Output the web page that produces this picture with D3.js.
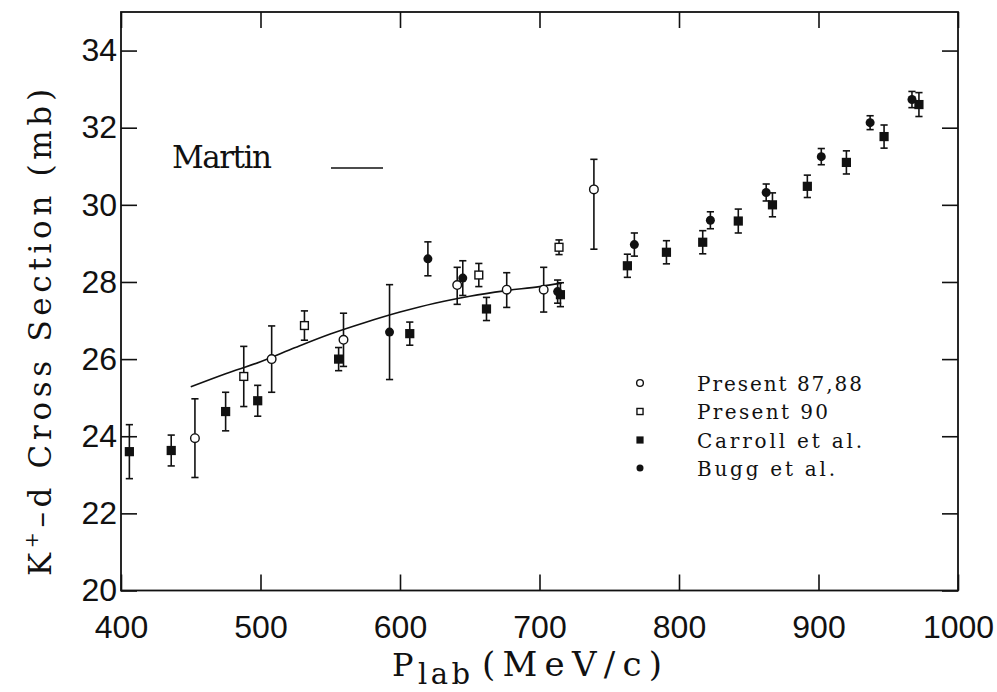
<!DOCTYPE html>
<html><head><meta charset="utf-8">
<script src="https://cdn.jsdelivr.net/npm/d3@7"></script>
<style>body{margin:0;background:#fff}svg{display:block}</style>
</head><body>
<svg id="c" width="997" height="692"></svg>
<script>
// ---- data ----
const xTicks = [400, 500, 600, 700, 800, 900, 1000];
const yTicks = [20, 22, 24, 26, 28, 30, 32, 34];

const present8788X = [453, 508, 559.5, 641, 676.5, 703, 739];
const present8788Y = [23.95, 26.0, 26.5, 27.92, 27.8, 27.8, 30.4];
const present8788Up = [1.02, 0.86, 0.69, 0.46, 0.44, 0.58, 0.78];
const present8788Dn = [1.02, 0.86, 0.69, 0.5, 0.46, 0.58, 1.55];

const present90X = [488, 531.5, 656.5, 714];
const present90Y = [25.55, 26.87, 28.18, 28.9];
const present90Err = [0.78, 0.38, 0.3, 0.19];

const carrollX = [406, 436, 475, 498, 556, 607, 662, 715, 763, 791, 817, 842.5, 867, 892, 920, 947, 972];
const carrollY = [23.6, 23.63, 24.64, 24.92, 26.0, 26.66, 27.3, 27.67, 28.42, 28.77, 29.03, 29.58, 30.0, 30.48, 31.1, 31.77, 32.6];
const carrollErr = [0.7, 0.4, 0.5, 0.4, 0.3, 0.3, 0.3, 0.31, 0.3, 0.3, 0.3, 0.31, 0.31, 0.29, 0.3, 0.3, 0.31];

const buggX = [592.5, 620, 645, 713, 768, 822.5, 862.5, 902, 937, 967];
const buggY = [26.7, 28.6, 28.1, 27.75, 28.97, 29.6, 30.32, 31.25, 32.13, 32.73];
const buggErr = [1.23, 0.44, 0.45, 0.3, 0.3, 0.22, 0.22, 0.21, 0.18, 0.21];

const martinX = [450, 475, 500, 525, 550, 575, 600, 625, 650, 675, 700, 716];
const martinY = [25.28, 25.62, 25.93, 26.3, 26.65, 26.95, 27.22, 27.45, 27.63, 27.77, 27.88, 27.97];

const legendLabels = ["Present 87,88", "Present 90", "Carroll et al.", "Bugg et al."];
const legendWidths = [165, 131, 165, 138];

// ---- layout ----
const m = {l: 121, r: 958, t: 12, b: 590.5};
const svg = d3.select("#c");
const x = d3.scaleLinear().domain([400, 1000]).range([m.l, m.r]);
const y = d3.scaleLinear().domain([20, 35]).range([m.b, m.t]);
const ink = "#111";
const TICK = 16;
const tickFont = "'Liberation Sans', Arial, sans-serif";
const serif = "'DejaVu Serif', serif";

function styleAxis(g, showText) {
  g.select(".domain").remove();
  g.selectAll(".tick line").attr("stroke", ink).attr("stroke-width", 1.6);
  if (!showText) g.selectAll(".tick text").remove();
  else g.selectAll(".tick text").attr("fill", ink).style("font-family", tickFont).style("font-size", "32px");
}

svg.append("g").attr("transform", `translate(0,${m.b})`)
  .call(d3.axisBottom(x).tickValues(xTicks).tickSize(-TICK).tickPadding(25).tickFormat(d3.format("d")))
  .call(g => styleAxis(g, true));
svg.append("g").attr("transform", `translate(0,${m.t})`)
  .call(d3.axisTop(x).tickValues(xTicks).tickSize(-TICK))
  .call(g => styleAxis(g, false));
svg.append("g").attr("transform", `translate(${m.l},0)`)
  .call(d3.axisLeft(y).tickValues(yTicks).tickSize(-TICK).tickPadding(4).tickFormat(d3.format("d")))
  .call(g => styleAxis(g, true));
svg.append("g").attr("transform", `translate(${m.r},0)`)
  .call(d3.axisRight(y).tickValues(yTicks).tickSize(-TICK))
  .call(g => styleAxis(g, false));

svg.append("rect").attr("x", m.l).attr("y", m.t).attr("width", m.r - m.l).attr("height", m.b - m.t)
  .attr("fill", "none").attr("stroke", ink).attr("stroke-width", 1.8);

// ---- Martin curve ----
const line = d3.line().x((d, i) => x(martinX[i])).y((d, i) => y(martinY[i])).curve(d3.curveMonotoneX);
svg.append("path").attr("d", line(martinX)).attr("fill", "none").attr("stroke", ink).attr("stroke-width", 1.6);

// ---- error bars ----
function errBars(xs, ys, up, dn) {
  const g = svg.append("g").attr("stroke", ink).attr("stroke-width", 1.6);
  xs.forEach((xv, i) => {
    const cx = x(xv), y1 = y(ys[i] + up[i]), y2 = y(ys[i] - dn[i]);
    g.append("line").attr("x1", cx).attr("x2", cx).attr("y1", y1).attr("y2", y2);
    g.append("line").attr("x1", cx - 3.6).attr("x2", cx + 3.6).attr("y1", y1).attr("y2", y1);
    g.append("line").attr("x1", cx - 3.6).attr("x2", cx + 3.6).attr("y1", y2).attr("y2", y2);
  });
}
errBars(present8788X, present8788Y, present8788Up, present8788Dn);
errBars(present90X, present90Y, present90Err, present90Err);
errBars(carrollX, carrollY, carrollErr, carrollErr);
errBars(buggX, buggY, buggErr, buggErr);

// ---- markers ----
function marker(g, kind, cx, cy, s) {
  if (kind === "oc") g.append("circle").attr("cx", cx).attr("cy", cy).attr("r", 4.3 * s).attr("fill", "#fff").attr("stroke", ink).attr("stroke-width", 1.4);
  if (kind === "os") g.append("rect").attr("x", cx - 3.9 * s).attr("y", cy - 3.9 * s).attr("width", 7.8 * s).attr("height", 7.8 * s).attr("fill", "#fff").attr("stroke", ink).attr("stroke-width", 1.4);
  if (kind === "fs") g.append("rect").attr("x", cx - 4.6 * s).attr("y", cy - 4.6 * s).attr("width", 9.2 * s).attr("height", 9.2 * s).attr("fill", ink);
  if (kind === "fc") g.append("circle").attr("cx", cx).attr("cy", cy).attr("r", 4.5 * s).attr("fill", ink);
}
const mg = svg.append("g");
carrollX.forEach((v, i) => marker(mg, "fs", x(v), y(carrollY[i]), 1));
buggX.forEach((v, i) => marker(mg, "fc", x(v), y(buggY[i]), 1));
present8788X.forEach((v, i) => marker(mg, "oc", x(v), y(present8788Y[i]), 1));
present90X.forEach((v, i) => marker(mg, "os", x(v), y(present90Y[i]), 1));

// ---- legend ----
svg.append("text").attr("x", 172).attr("y", 168).attr("textLength", 100).attr("lengthAdjust", "spacing")
  .style("font-family", serif).style("font-size", "31px").attr("fill", ink).text("Martin");
svg.append("line").attr("x1", 331).attr("x2", 383).attr("y1", 168).attr("y2", 168).attr("stroke", ink).attr("stroke-width", 1.6);

const kinds = ["oc", "os", "fs", "fc"];
const rowsY = [383, 411.5, 440, 468];
const lg = svg.append("g");
kinds.forEach((k, i) => {
  marker(lg, k, 640, rowsY[i], 0.78);
  lg.append("text").attr("x", 697).attr("y", rowsY[i] + 7.5).attr("textLength", legendWidths[i]).attr("lengthAdjust", "spacing")
    .style("font-family", serif).style("font-size", "20px").attr("fill", ink).text(legendLabels[i]);
});

// ---- axis titles ----
const yt = svg.append("text").attr("transform", "translate(51,576) rotate(-90)")
  .attr("textLength", 487).attr("lengthAdjust", "spacing")
  .style("font-family", serif).style("font-size", "31px").attr("fill", ink);
yt.append("tspan").text("K");
yt.append("tspan").attr("dy", -13).style("font-size", "19px").text("+");
yt.append("tspan").attr("dy", 13).text("\u2013d Cross Section (mb)");

const xtg = svg.append("g").style("font-family", serif).attr("fill", ink);
xtg.append("text").attr("x", 392).attr("y", 676).style("font-size", "32px").text("P");
xtg.append("text").attr("x", 418).attr("y", 684).attr("textLength", 52).attr("lengthAdjust", "spacing")
  .style("font-size", "29px").text("lab");
xtg.append("text").attr("x", 482).attr("y", 676).attr("textLength", 180).attr("lengthAdjust", "spacing")
  .style("font-size", "34px").text("(MeV/c)");
</script>
</body></html>
